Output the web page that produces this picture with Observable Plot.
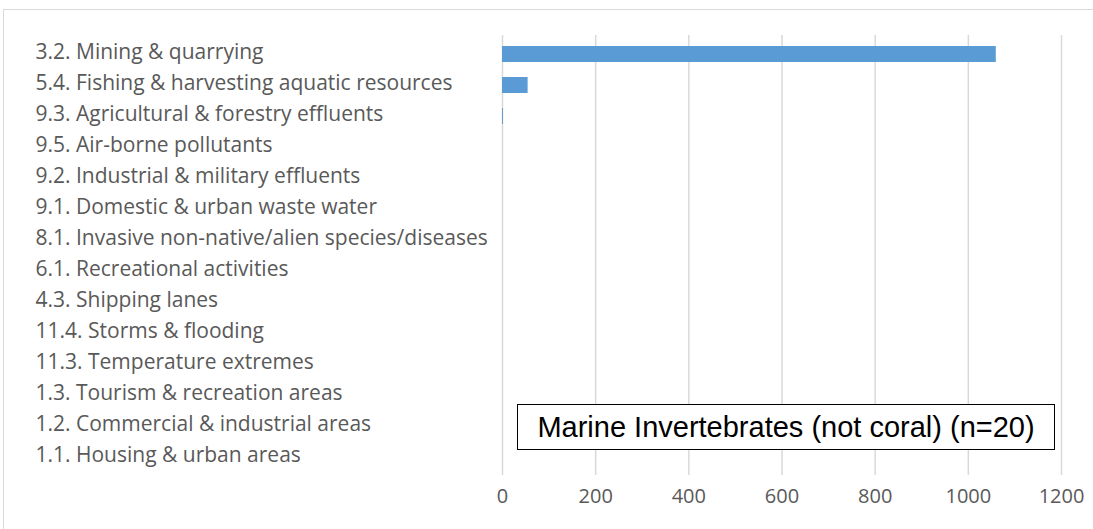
<!DOCTYPE html>
<html><head><meta charset="utf-8">
<script src="https://cdn.jsdelivr.net/npm/d3@7"></script>
<script src="https://cdn.jsdelivr.net/npm/@observablehq/plot@0.6"></script>
<style>
body{margin:0;background:#fff;}
#wrap{position:relative;width:1093px;height:529px;overflow:hidden;}
#chart{position:absolute;left:0;top:0;}
#border{position:absolute;left:3px;top:9px;width:1100px;height:530px;border:1px solid #d9d9d9;box-sizing:border-box;}
#note{position:absolute;left:517px;top:404px;width:538px;height:46px;border:1.5px solid #000;background:#fff;font:29px "Liberation Sans",Arial,sans-serif;color:#000;display:flex;align-items:center;justify-content:center;box-sizing:border-box;}
</style></head>
<body><div id="wrap"><div id="chart"></div><div id="border"></div><div id="note"></div></div>
<script>
const threats = [
  "3.2. Mining & quarrying",
  "5.4. Fishing & harvesting aquatic resources",
  "9.3. Agricultural & forestry effluents",
  "9.5. Air-borne pollutants",
  "9.2. Industrial & military effluents",
  "9.1. Domestic & urban waste water",
  "8.1. Invasive non-native/alien species/diseases",
  "6.1. Recreational activities",
  "4.3. Shipping lanes",
  "11.4. Storms & flooding",
  "11.3. Temperature extremes",
  "1.3. Tourism & recreation areas",
  "1.2. Commercial & industrial areas",
  "1.1. Housing & urban areas"
];
const counts = [1060, 55, 2, 0, 0, 0, 0, 0, 0, 0, 0, 0, 0, 0];
const xTicks = [0, 200, 400, 600, 800, 1000, 1200];
const noteText = "Marine Invertebrates (not coral) (n=20)";

const data = threats.map((t, i) => ({threat: t, count: counts[i]}));
const chart = Plot.plot({
  width: 1093, height: 529,
  marginLeft: 502, marginRight: 32, marginTop: 35, marginBottom: 54,
  style: {color: "#595959", fontFamily: "'Open Sans', sans-serif", fontSize: "21px", background: "transparent"},
  x: {domain: [0, 1200], ticks: xTicks, label: null},
  y: {domain: threats, paddingInner: 0.5, paddingOuter: 0.25, label: null},
  marks: [
    Plot.ruleX(xTicks, {stroke: "#d9d9d9", strokeWidth: 1.5}),
    Plot.barX(data, {x: "count", y: "threat", fill: "#5b9bd5"}),
    Plot.axisX({ticks: xTicks, tickSize: 0, tickPadding: 13, tickFormat: d => String(d), fill: "#595959", fontSize: 20, label: null}),
    Plot.axisY({tickSize: 0, tickPadding: 0, textAnchor: "start", dx: -467, dy: -2, fill: "#595959", fontSize: 21, label: null})
  ]
});
document.getElementById("chart").appendChild(chart);
document.getElementById("note").textContent = noteText;
</script>
</body></html>
